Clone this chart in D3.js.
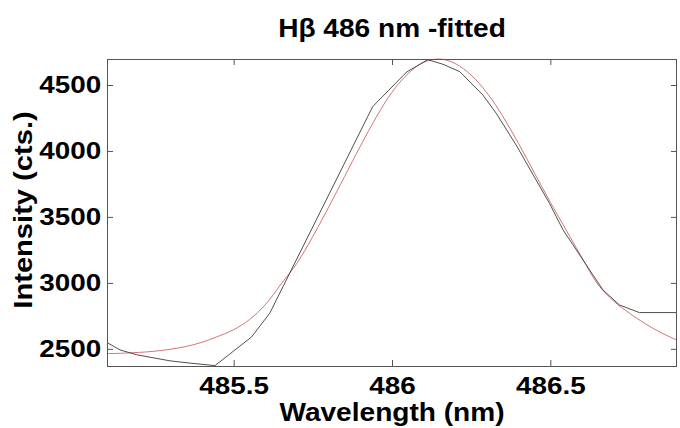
<!DOCTYPE html>
<html>
<head>
<meta charset="utf-8">
<script src="https://cdn.jsdelivr.net/npm/d3@7"></script>
<style>
    html, body { margin: 0; padding: 0; background: #fff; }
    svg text { font-family: "Liberation Sans", Arial, sans-serif; font-weight: bold; fill: #000; }
</style>
</head>
<body>
<div id="chart"></div>
<script>
// measured spectrum (black) and the fitted profile (red)
var measWl = [485.100, 485.141, 485.194, 485.299, 485.362, 485.441, 485.556, 485.614, 485.939,
              486.046, 486.113, 486.161, 486.214, 486.287, 486.329, 486.392, 486.497, 486.540,
              486.666, 486.718, 486.781, 486.840, 486.900];
var measCts = [2548, 2492, 2455, 2409, 2392, 2373, 2589, 2770, 4336,
               4598, 4692, 4657, 4601, 4424, 4286, 4045, 3604, 3402,
               2947, 2833, 2775, 2775, 2775];

var fitWl = [485.10, 485.15, 485.20, 485.25, 485.30, 485.35, 485.40, 485.45, 485.50, 485.55,
             485.60, 485.65, 485.70, 485.75, 485.80, 485.85, 485.90, 485.95, 486.00, 486.05,
             486.10, 486.15, 486.20, 486.25, 486.30, 486.35, 486.40, 486.45, 486.50, 486.55,
             486.60, 486.65, 486.70, 486.75, 486.80, 486.85, 486.90];
var fitCts = [2464, 2467, 2473, 2482, 2497, 2518, 2550, 2594, 2645, 2722,
              2835, 2992, 3150, 3352, 3574, 3805, 4036, 4255, 4445, 4585,
              4672, 4697, 4662, 4575, 4440, 4262, 4055, 3832, 3611, 3400,
              3190, 2990, 2862, 2770, 2690, 2622, 2566];

var xTicks = [485.5, 486, 486.5];
var yTicks = [2500, 3000, 3500, 4000, 4500];
var xDomain = [485.1, 486.9];
var yDomain = [2370, 4697];

(function(){
    'use strict';

    var width = 680, height = 428;
    var left = 107, right = 677, top = 59, bottom = 366;

    var svg = d3.select('#chart')
        .append('svg')
        .attr('width', width)
        .attr('height', height);

    var x = d3.scaleLinear().domain(xDomain).range([left, right]);
    var y = d3.scaleLinear().domain(yDomain).range([bottom, top]);

    svg.append('defs').append('clipPath').attr('id', 'plotclip')
        .append('rect')
        .attr('x', left).attr('y', top - 1)
        .attr('width', right - left).attr('height', bottom - top + 2);

    // lines
    var meas = measWl.map(function(w, i) { return [w, measCts[i]]; });
    var fit = fitWl.map(function(w, i) { return [w, fitCts[i]]; });

    var g = svg.append('g').attr('clip-path', 'url(#plotclip)');

    g.append('path')
        .datum(fit)
        .attr('fill', 'none')
        .attr('stroke', '#cf6464')
        .attr('stroke-width', 0.9)
        .attr('d', d3.line()
            .x(function(d) { return x(d[0]); })
            .y(function(d) { return y(d[1]); })
            .curve(d3.curveCatmullRom));

    g.append('path')
        .datum(meas)
        .attr('fill', 'none')
        .attr('stroke', '#3c3c3c')
        .attr('stroke-width', 0.9)
        .attr('d', d3.line()
            .x(function(d) { return x(d[0]); })
            .y(function(d) { return y(d[1]); }));

    // axes, ticks pointing inward on all four sides
    var axisColor = '#555';
    var tickLen = 6;
    var stretch = 'scale(1.16,1)';   // the original lettering is a little wide

    var bx = svg.append('g')
        .attr('transform', 'translate(0,' + bottom + ')')
        .call(d3.axisBottom(x).tickValues(xTicks).tickFormat(d3.format(''))
            .tickSizeInner(-tickLen).tickSizeOuter(0).tickPadding(11));
    var ly = svg.append('g')
        .attr('transform', 'translate(' + left + ',0)')
        .call(d3.axisLeft(y).tickValues(yTicks).tickFormat(d3.format('d'))
            .tickSizeInner(-tickLen).tickSizeOuter(0).tickPadding(5));
    var tx = svg.append('g')
        .attr('transform', 'translate(0,' + top + ')')
        .call(d3.axisTop(x).tickValues(xTicks).tickFormat('')
            .tickSizeInner(-tickLen).tickSizeOuter(0));
    var ry = svg.append('g')
        .attr('transform', 'translate(' + right + ',0)')
        .call(d3.axisRight(y).tickValues(yTicks).tickFormat('')
            .tickSizeInner(-tickLen).tickSizeOuter(0));

    [bx, ly, tx, ry].forEach(function(a) {
        a.select('.domain').remove();
        a.selectAll('line').attr('stroke', axisColor);
        a.selectAll('text')
            .attr('font-family', null)
            .attr('transform', stretch)
            .style('font-size', '24px');
    });

    svg.append('rect')
        .attr('x', left + 0.5).attr('y', top + 0.5)
        .attr('width', right - left - 1).attr('height', bottom - top)
        .attr('fill', 'none')
        .attr('stroke', axisColor)
        .attr('stroke-width', 1);

    // titles
    svg.append('text')
        .attr('transform', 'translate(' + (left + right) / 2 + ',37) scale(1.08,1)')
        .attr('text-anchor', 'middle')
        .style('font-size', '26px')
        .text('Hβ 486 nm -fitted');

    svg.append('text')
        .attr('transform', 'translate(' + (left + right) / 2 + ',421) scale(1.06,1)')
        .attr('text-anchor', 'middle')
        .style('font-size', '26.5px')
        .text('Wavelength (nm)');

    svg.append('text')
        .attr('transform', 'translate(32,210) rotate(-90) scale(1.12,1)')
        .attr('text-anchor', 'middle')
        .style('font-size', '26px')
        .text('Intensity (cts.)');
})();
</script>
</body>
</html>
